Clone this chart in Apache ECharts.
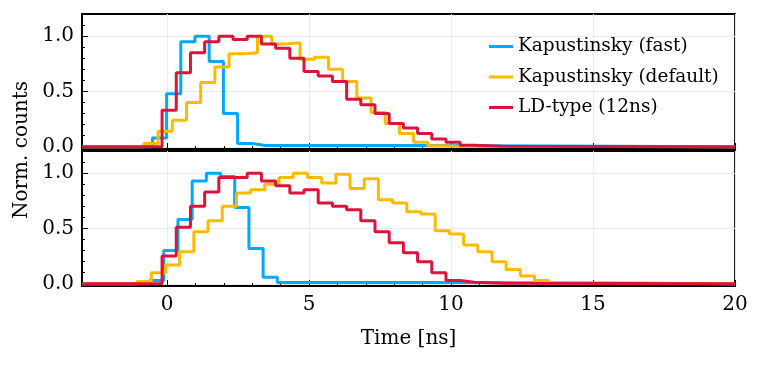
<!DOCTYPE html>
<html><head><meta charset="utf-8">
<script src="https://cdn.jsdelivr.net/npm/echarts@6/dist/echarts.min.js"></script>
<style>html,body{margin:0;padding:0;background:#fff}#c{width:762px;height:368px}</style>
</head><body><div id="c"></div>
<script>
// ---- data ----
const BIN = 0.5;             // ns, histogram bin width
const X_MIN = -3, X_MAX = 20;
const Y_MIN = -0.02, Y_MAX = 1.2;
const xMajorTicks = [0, 5, 10, 15, 20];
const yMajorTicks = [0, 0.5, 1.0];
const yMinorTicks = [0, 0.1, 0.2, 0.3, 0.4, 0.5, 0.6, 0.7, 0.8, 0.9, 1.0, 1.1];
const seriesNames = ['Kapustinsky (fast)', 'Kapustinsky (default)', 'LD-type (12ns)'];

// top panel (first edge of each histogram, then bin values)
const topFastStart = -0.52;
const topFast = [0.08, 0.48, 0.95, 1.0, 0.77, 0.30, 0.03, 0.012, 0.012, 0.012, 0.012, 0.012, 0.012, 0.012, 0.012, 0.012, 0.012, 0.012, 0.012];
const topDefStart = -0.82;
const topDef = [0.03, 0.14, 0.24, 0.40, 0.58, 0.72, 0.84, 0.85, 1.0, 0.93, 0.94, 0.79, 0.81, 0.70, 0.59, 0.44, 0.31, 0.21, 0.12, 0.04, 0.01, 0.005];
const topLDStart = -0.18;
const topLD = [0.33, 0.67, 0.85, 0.95, 1.0, 0.97, 1.0, 0.93, 0.89, 0.80, 0.68, 0.64, 0.59, 0.43, 0.38, 0.30, 0.21, 0.17, 0.12, 0.07, 0.04, 0.015, 0.01, 0.005];

// bottom panel
const botFastStart = -0.62;
const botFast = [0.03, 0.30, 0.58, 0.93, 1.0, 0.97, 0.69, 0.32, 0.06, 0.012, 0.012, 0.012, 0.012, 0.012, 0.012, 0.012, 0.012, 0.012, 0.012, 0.012, 0.012, 0.012];
const botDefStart = -1.06;
const botDef = [0.02, 0.10, 0.17, 0.29, 0.47, 0.57, 0.70, 0.82, 0.85, 0.90, 0.96, 1.0, 0.96, 0.91, 0.99, 0.86, 0.95, 0.76, 0.73, 0.65, 0.63, 0.48, 0.45, 0.35, 0.29, 0.20, 0.13, 0.07, 0.03, 0.01];
const botLDStart = -0.18;
const botLD = [0.25, 0.51, 0.70, 0.83, 0.96, 0.96, 1.0, 0.93, 0.885, 0.82, 0.85, 0.73, 0.70, 0.67, 0.57, 0.47, 0.37, 0.28, 0.20, 0.10, 0.03, 0.015, 0.01, 0.005];

// ---- styling ----
const COLORS = ['#00A8FF', '#FFBA00', '#DC143C'];
const FONT = 'DejaVu Serif';
const GRIDS = [
  {left: 82, top: 14, width: 653, height: 135},
  {left: 82, top: 151, width: 653, height: 135}
];

function stairs(start, vals) {
  const pts = [[X_MIN, 0]];
  vals.forEach((v, i) => pts.push([+(start + i * BIN).toFixed(4), v]));
  pts.push([+(start + vals.length * BIN).toFixed(4), 0]);
  pts.push([X_MAX, 0]);
  return pts;
}

const xAxes = [], yAxes = [];
GRIDS.forEach((g, gi) => {
  xAxes.push({
    type: 'value', gridIndex: gi, min: X_MIN, max: X_MAX, position: 'bottom',
    axisLine: {show: true, onZero: false, lineStyle: {color: '#000', width: 1.8}},
    axisTick: {show: true, inside: true, length: 6, customValues: xMajorTicks, lineStyle: {color: '#000', width: 1}},
    axisLabel: {show: gi === 1, customValues: xMajorTicks, margin: 9, color: '#000', fontFamily: FONT, fontSize: 20},
    splitLine: {show: true, lineStyle: {color: '#ececec', width: 1}},
    name: gi === 1 ? 'Time [ns]' : '', nameLocation: 'middle', nameGap: 43,
    nameTextStyle: {color: '#000', fontFamily: FONT, fontSize: 20}
  });
  xAxes.push({
    type: 'value', gridIndex: gi, min: X_MIN, max: X_MAX, interval: 1, position: 'bottom',
    axisLine: {show: false, onZero: false}, axisLabel: {show: false}, splitLine: {show: false},
    axisTick: {show: true, inside: true, length: 3, lineStyle: {color: '#000', width: 1}}
  });
  yAxes.push({
    type: 'value', gridIndex: gi, min: Y_MIN, max: Y_MAX, position: 'left',
    axisLine: {show: true, onZero: false, lineStyle: {color: '#000', width: 1.8}},
    axisTick: {show: true, inside: true, length: 6, customValues: yMajorTicks, lineStyle: {color: '#000', width: 1}},
    axisLabel: {show: true, customValues: yMajorTicks, margin: 8, color: '#000', fontFamily: FONT, fontSize: 20,
      formatter: v => Number(v).toFixed(1)},
    splitLine: {show: true, lineStyle: {color: '#ececec', width: 1}}
  });
  yAxes.push({
    type: 'value', gridIndex: gi, min: Y_MIN, max: Y_MAX, position: 'left',
    axisLine: {show: false, onZero: false}, axisLabel: {show: false}, splitLine: {show: false},
    axisTick: {show: true, inside: true, length: 3, customValues: yMinorTicks, lineStyle: {color: '#000', width: 1}}
  });
});

const panels = [
  [[topFastStart, topFast], [topDefStart, topDef], [topLDStart, topLD]],
  [[botFastStart, botFast], [botDefStart, botDef], [botLDStart, botLD]]
];
const series = [];
panels.forEach((p, gi) => {
  p.forEach(([start, vals], si) => {
    series.push({
      type: 'line', name: seriesNames[si], step: 'end', showSymbol: false, symbol: 'none',
      xAxisIndex: gi * 2, yAxisIndex: gi * 2,
      data: stairs(start, vals),
      color: COLORS[si],
      lineStyle: {color: COLORS[si], width: 3},
      z: 3 + si, animation: false, silent: true
    });
  });
});

const chart = echarts.init(document.getElementById('c'), null, {renderer: 'canvas'});
chart.setOption({
  animation: false,
  backgroundColor: '#fff',
  grid: GRIDS.map(g => Object.assign({show: true, borderColor: '#000', borderWidth: 1.8, backgroundColor: 'transparent', containLabel: false}, g)),
  xAxis: xAxes,
  yAxis: yAxes,
  legend: {
    data: seriesNames, orient: 'vertical', left: 484, top: 31,
    icon: 'rect', itemWidth: 24, itemHeight: 3, itemGap: 9.5,
    textStyle: {color: '#000', fontFamily: FONT, fontSize: 18.5, lineHeight: 21},
    selectedMode: false
  },
  graphic: [{
    type: 'text', x: 22, y: 150, rotation: Math.PI / 2,
    style: {text: 'Norm. counts', fill: '#000', font: '20px "DejaVu Serif"', align: 'center', verticalAlign: 'middle'}
  }],
  series: series
});
</script>
</body></html>
